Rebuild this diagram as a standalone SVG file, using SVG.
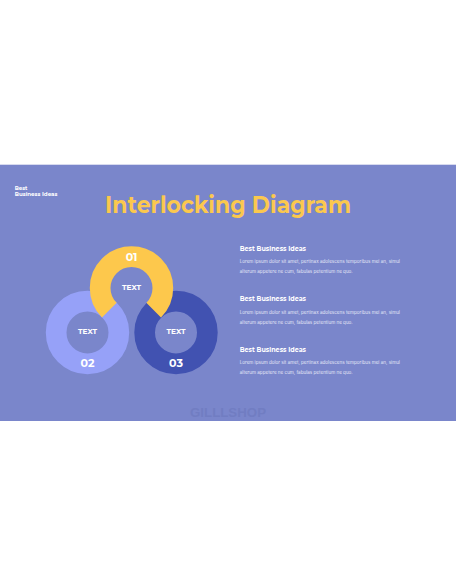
<svg xmlns="http://www.w3.org/2000/svg" width="456" height="586" viewBox="0 0 456 586">
<style>
.w{fill:#ffffff;font-family:"Montserrat","Inter","Open Sans",sans-serif;font-weight:700}
.num{font-size:11px;text-anchor:middle}
.lbl{font-size:7.4px;text-anchor:middle}
.hd{font-size:7px}
.body{fill:#E4E7F7;font-family:"Inter","Open Sans",sans-serif;font-size:4.3px;font-weight:400}
</style>
<rect x="0" y="0" width="456" height="586" fill="#ffffff"/>
<rect id="slide" x="0" y="164.7" width="456" height="256.3" fill="#7A86CB"/>
<g id="corner-label">
<text class="w" x="14.7" y="189.5" font-size="5.4">Best</text>
<text class="w" x="14.7" y="196.3" font-size="5.4" textLength="42.7" lengthAdjust="spacingAndGlyphs">Business Ideas</text>
</g>
<g id="title">
<text x="228" y="213.3" fill="#FBC84E" font-family="Montserrat,'Open Sans',sans-serif" font-weight="700" font-size="24" text-anchor="middle" textLength="246" lengthAdjust="spacingAndGlyphs">Interlocking Diagram</text>
</g>
<g id="ring-02">
<circle cx="87.5" cy="332.5" r="31.35" fill="none" stroke="#96A1F8" stroke-width="20.7"/>
<text class="w lbl" x="87.5" y="334.4">TEXT</text>
<text class="w num" x="87.5" y="366.8">02</text>
</g>
<g id="ring-03">
<circle cx="176" cy="332.5" r="31.35" fill="none" stroke="#4152B1" stroke-width="20.7"/>
<text class="w lbl" x="176" y="334.4">TEXT</text>
<text class="w num" x="176" y="366.8">03</text>
</g>
<g id="ring-01">
<path d="M109.33,310.17 A31.35,31.35 0 1 1 153.67,310.17" fill="none" stroke="#FDC84C" stroke-width="20.7"/>
<text class="w lbl" x="131.5" y="290">TEXT</text>
<text class="w num" x="131.5" y="260.7">01</text>
</g>
<g id="item-1">
<text class="w hd" x="239.7" y="250.8" textLength="66.3" lengthAdjust="spacingAndGlyphs">Best Business Ideas</text>
<text class="body" x="239.7" y="263" textLength="160.3" lengthAdjust="spacingAndGlyphs">Lorem ipsum dolor sit amet, pertinax adolescens temporibus mei an, simul</text>
<text class="body" x="239.7" y="273" textLength="113" lengthAdjust="spacingAndGlyphs">alterum appetere ne cum, fabulas petentium ne quo.</text>
</g>
<g id="item-2">
<text class="w hd" x="239.7" y="301.4" textLength="66.3" lengthAdjust="spacingAndGlyphs">Best Business Ideas</text>
<text class="body" x="239.7" y="313.7" textLength="160.3" lengthAdjust="spacingAndGlyphs">Lorem ipsum dolor sit amet, pertinax adolescens temporibus mei an, simul</text>
<text class="body" x="239.7" y="323.7" textLength="113" lengthAdjust="spacingAndGlyphs">alterum appetere ne cum, fabulas petentium ne quo.</text>
</g>
<g id="item-3">
<text class="w hd" x="239.7" y="352.3" textLength="66.3" lengthAdjust="spacingAndGlyphs">Best Business Ideas</text>
<text class="body" x="239.7" y="364.3" textLength="160.3" lengthAdjust="spacingAndGlyphs">Lorem ipsum dolor sit amet, pertinax adolescens temporibus mei an, simul</text>
<text class="body" x="239.7" y="374.3" textLength="113" lengthAdjust="spacingAndGlyphs">alterum appetere ne cum, fabulas petentium ne quo.</text>
</g>
<g id="watermark">
<text x="228" y="416.7" fill="#717DC2" font-family="'Liberation Sans',Arial,sans-serif" font-weight="700" font-size="12" text-anchor="middle" textLength="76" lengthAdjust="spacingAndGlyphs">GILLLSHOP</text>
</g>
</svg>
